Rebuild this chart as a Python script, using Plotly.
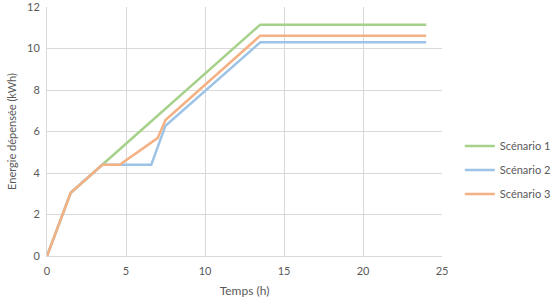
import plotly.graph_objects as go

x1 = [0, 1.5, 3.5, 13.5, 24]
y1 = [0, 3.05, 4.4, 11.15, 11.15]

x2 = [0, 1.5, 3.5, 6.6, 7.5, 13.5, 24]
y2 = [0, 3.05, 4.4, 4.4, 6.28, 10.3, 10.3]

x3 = [0, 1.5, 3.5, 4.6, 7.0, 7.5, 13.5, 24]
y3 = [0, 3.05, 4.4, 4.4, 5.68, 6.55, 10.62, 10.62]

names = ["Scénario 1", "Scénario 2", "Scénario 3"]
colors = ["#A6D18B", "#9DC3E6", "#F4B183"]

fig = go.Figure()
for xs, ys, n, c in zip([x1, x2, x3], [y1, y2, y3], names, colors):
    fig.add_trace(go.Scatter(x=xs, y=ys, mode="lines", name=n, legendgroup=n,
                             line=dict(color=c, width=2.5)))

font = dict(family="Lato, Open Sans, sans-serif", size=11, color="#595959")
fig.update_layout(
    width=554, height=300,
    margin=dict(l=47, r=112, t=7, b=44, autoexpand=False),
    paper_bgcolor="white", plot_bgcolor="white",
    font=font,
    legend=dict(xref="container", x=0.83, y=0.345, yanchor="middle", xanchor="left",
                font=font, traceorder="grouped",
                itemwidth=30, tracegroupgap=5),
    xaxis=dict(range=[0, 25], dtick=5, showgrid=True, gridcolor="#D9D9D9",
               showline=True, linecolor="#D9D9D9", zeroline=False,
               ticks="", ticklabelstandoff=5, ticklabeloverflow="allow",
               title=dict(text="Temps (h)", standoff=10, font=dict(size=12)),
               tickfont=font),
    yaxis=dict(range=[0, 12], dtick=2, showgrid=True, gridcolor="#D9D9D9",
               showline=True, linecolor="#D9D9D9", zeroline=False,
               ticks="", ticklabelstandoff=4, ticklabeloverflow="allow",
               title=dict(text="Energie dépensée (kWh)", standoff=8, font=dict(size=11)),
               tickfont=font),
)
fig.write_html("out.html")
